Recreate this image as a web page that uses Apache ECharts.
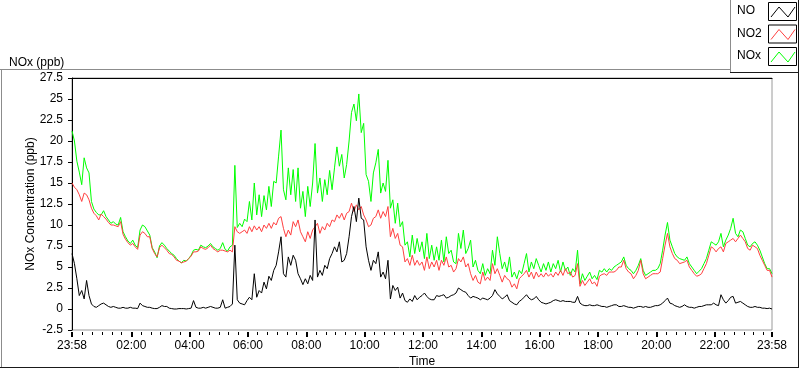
<!DOCTYPE html>
<html><head><meta charset="utf-8">
<script src="https://cdn.jsdelivr.net/npm/echarts@6/dist/echarts.min.js"></script>
<style>html,body{margin:0;padding:0;background:#fff}#c{width:800px;height:369px}</style>
</head><body><div id="c"></div>
<script>
// sampling grid: minutes relative to 00:00 of the day, starting 23:58 the day before
const startMinute = -2;
const stepMinutes = 5;

const noxValues = [
21.2,20.0,17.6,16.3,14.8,18.0,16.8,16.2,12.8,11.9,11.5,11.2,
11.2,11.7,11.0,10.6,10.2,10.4,10.1,10.0,10.9,9.2,8.6,8.1,
7.8,8.2,7.6,7.3,9.4,10.0,9.8,9.3,8.8,7.3,6.8,6.1,
7.5,7.9,7.6,7.2,6.9,6.6,6.4,6.0,5.7,5.5,5.8,5.7,
6.0,6.4,7.0,7.1,7.0,7.6,7.4,7.3,7.5,7.8,7.4,7.2,
7.0,7.2,7.9,7.1,6.9,7.4,7.6,17.1,9.7,10.2,9.8,10.7,
10.4,12.8,10.6,15.0,11.2,13.6,11.0,13.5,11.8,14.6,12.2,15.2,
15.0,18.2,21.3,14.2,13.0,16.8,13.6,16.6,12.8,16.8,12.0,14.0,
11.0,14.6,12.2,15.0,19.7,13.8,15.6,12.8,15.4,13.6,16.5,14.2,
16.8,19.3,17.0,18.4,15.6,17.2,20.0,23.4,24.4,22.4,25.6,21.0,
22.1,16.0,15.2,12.8,16.2,17.4,19.0,13.8,15.0,14.0,17.7,12.0,
13.0,10.2,12.6,9.8,10.4,7.6,8.0,6.2,8.8,6.6,8.4,6.8,
8.0,6.0,9.0,6.0,7.6,5.8,7.4,5.8,8.2,5.6,8.6,6.6,
7.0,5.6,5.4,9.0,7.2,9.4,6.6,7.2,8.2,5.0,5.8,4.6,
4.2,5.4,4.0,4.8,4.2,7.0,5.2,8.6,6.6,4.8,5.6,4.4,
6.2,3.8,4.4,3.6,4.6,4.2,5.4,6.6,4.4,5.6,4.8,6.0,
5.2,4.4,5.4,4.6,5.6,4.4,5.4,4.8,5.8,4.4,5.6,4.6,
5.0,4.0,4.8,4.4,7.0,3.0,4.2,3.4,3.9,4.4,3.6,4.0,
3.5,4.6,4.4,4.8,4.4,4.8,4.6,5.0,5.2,5.4,5.6,6.2,
5.2,4.8,4.6,4.2,4.6,5.2,6.0,4.6,4.0,4.2,4.4,4.6,
4.6,4.8,5.4,7.0,8.8,10.3,8.2,7.4,6.6,6.2,6.0,5.9,
5.8,6.2,5.4,5.0,4.6,4.2,4.5,4.8,5.4,6.0,7.0,8.0,
7.8,7.6,8.0,9.0,7.4,8.2,8.8,9.6,10.8,9.0,8.6,9.4,
9.2,8.4,7.6,7.4,7.8,8.0,7.6,7.0,6.2,5.4,4.8,4.8,4.2
];

const no2Values = [
15.0,14.5,14.2,13.6,12.8,13.8,13.6,13.0,12.0,11.4,11.1,10.6,
11.3,11.0,10.7,10.3,10.0,10.0,9.9,9.8,10.4,8.9,8.3,7.9,
7.6,7.8,7.4,7.1,8.8,9.2,9.0,8.6,8.6,7.2,6.6,6.2,
7.3,7.6,7.3,7.0,6.6,6.5,6.2,5.8,5.7,5.5,5.6,5.7,
6.0,6.3,6.8,6.8,6.9,7.4,7.2,7.1,7.3,7.6,7.2,7.0,
6.8,7.0,7.0,6.9,6.8,7.0,6.8,9.8,9.2,9.0,9.2,9.4,
9.0,9.8,9.2,9.9,9.4,9.8,9.2,10.0,9.6,10.2,9.6,10.3,
10.0,10.8,11.0,9.6,8.6,9.4,8.8,10.4,9.8,10.6,9.2,8.6,
8.0,9.2,8.4,9.4,9.8,10.2,9.0,9.8,9.4,10.2,9.8,10.6,
10.4,11.2,10.8,11.4,10.6,11.4,11.6,12.6,11.6,12.4,11.8,12.2,
11.2,10.6,9.8,10.0,10.8,11.0,11.8,10.8,11.6,11.0,12.2,8.6,
9.6,8.4,9.0,7.6,7.4,5.6,6.0,5.2,6.4,5.2,5.8,5.2,
5.6,4.6,6.2,4.8,5.6,5.0,5.8,4.6,5.8,5.2,6.2,5.0,
5.2,4.4,4.8,6.0,5.6,6.2,5.0,5.4,4.2,3.4,4.0,3.2,
3.0,4.4,3.4,3.8,3.4,5.4,4.2,4.8,4.0,3.2,4.0,3.6,
3.4,2.6,3.0,2.4,3.6,3.9,4.2,4.6,3.8,4.4,3.6,4.4,
3.8,4.2,3.8,4.3,3.9,4.2,3.8,4.4,4.0,4.6,4.0,4.8,
4.2,4.4,3.8,4.0,5.4,2.7,3.4,2.8,3.2,3.6,3.0,3.2,
2.7,3.9,4.1,4.2,4.0,4.4,4.4,4.4,4.6,5.0,5.0,5.8,
4.8,4.4,4.2,3.6,4.0,4.6,5.8,4.2,3.6,3.8,4.0,4.2,
4.2,4.2,4.4,6.0,7.6,9.0,7.4,6.6,6.0,5.8,5.4,5.5,
5.6,5.8,5.0,4.6,4.2,3.9,4.0,4.2,4.8,5.4,6.4,7.4,
7.2,6.8,7.2,7.4,6.8,7.8,8.0,8.2,8.4,8.0,8.4,8.8,
8.4,8.0,7.2,7.0,7.6,7.4,7.2,6.4,5.8,5.2,4.6,4.6,3.8
];

const noValues = [
6.6,5.4,3.6,1.6,2.2,1.2,3.4,1.6,0.6,0.3,0.2,0.4,
0.6,0.7,0.5,0.3,0.2,0.3,0.2,0.1,0.1,0.2,0.1,0.1,
0.2,0.1,0.1,0.05,0.7,0.4,0.3,0.2,0.2,0.1,0.05,0.05,
0.2,0.4,0.3,0.3,0.1,0.05,0,0,0.05,0.05,0.05,0,
0.05,0.1,1.0,0.2,0.1,0.1,0.2,0.1,0.2,0.3,0.2,0.1,
0.1,0.2,1.1,0.1,0.2,0.3,0.6,7.6,1.1,0.7,0.6,0.5,
1.0,1.4,1.1,4.2,1.4,2.2,1.9,3.2,2.4,3.9,3.4,4.6,
5.2,6.8,8.6,4.2,3.8,6.2,5.2,6.4,5.8,4.2,3.6,2.9,
3.6,3.0,4.0,3.4,10.6,3.8,4.6,4.0,5.2,4.8,6.0,6.6,
7.4,6.8,8.0,5.6,5.8,6.6,8.6,11.0,12.2,10.4,13.2,10.8,
10.6,7.4,5.8,4.6,5.8,5.4,6.8,3.8,4.4,3.6,5.8,1.2,
2.8,2.2,2.6,1.3,1.9,1.0,0.8,1.2,0.9,1.6,1.1,1.4,
1.6,1.9,1.5,1.2,1.1,1.1,1.6,1.5,1.6,1.7,1.3,1.4,
1.6,1.7,1.9,2.5,2.3,2.1,2.0,1.6,1.3,1.5,1.4,1.3,
1.1,1.3,1.2,1.1,1.3,1.6,2.3,1.8,1.5,1.2,1.4,1.7,
1.0,0.8,0.6,0.5,0.9,1.1,1.4,1.7,1.3,1.1,1.2,1.5,
1.1,0.8,0.7,0.6,0.7,0.8,1.0,1.1,1.0,0.9,1.0,0.9,
0.9,0.9,0.8,0.8,1.5,0.7,0.5,0.4,0.4,0.5,0.4,0.4,
0.5,0.4,0.3,0.3,0.2,0.3,0.4,0.5,0.5,0.3,0.3,0.4,
0.3,0.2,0.2,0.1,0.2,0.3,0.3,0.2,0.3,0.2,0.2,0.3,
0.4,0.4,0.5,0.7,1.0,1.3,0.7,0.6,0.4,0.3,0.2,0.3,
0.5,0.3,0.2,0.2,0.1,0.2,0.3,0.3,0.4,0.5,0.5,0.5,
0.7,0.5,0.4,1.7,1.1,0.7,1.0,1.4,1.5,0.7,0.8,0.9,
0.7,0.5,0.3,0.2,0.2,0.3,0.2,0.2,0.1,0.1,0.05,0.1,0.0
];

// x-axis tick labels (minutes from 00:00; -2 = 23:58 start, 1438 = 23:58 end)
const majorTickMinutes = [-2,120,240,360,480,600,720,840,960,1080,1200,1320,1438];
const minorTickMinutes = [];
for (let m = 20; m < 1440; m += 20) { if (m % 120 !== 0) minorTickMinutes.push(m); }

function fmtTime(v) {
  const m = ((Math.round(v) % 1440) + 1440) % 1440;
  const hh = Math.floor(m / 60), mm = m % 60;
  return (hh < 10 ? '0' : '') + hh + ':' + (mm < 10 ? '0' : '') + mm;
}
function pairs(vals) {
  return vals.map((v, i) => [startMinute + i * stepMinutes, v]);
}

const FONT = '"Liberation Sans", Arial, sans-serif';
const chart = echarts.init(document.getElementById('c'), null, {renderer: 'canvas'});

const legendItems = [
  {name: 'NO', color: '#000000'},
  {name: 'NO2', color: '#ff4040'},
  {name: 'NOx', color: '#00ff00'}
];
const legendGraphics = [];
legendItems.forEach((it, i) => {
  const y0 = 2 + i * 22.5;
  legendGraphics.push({type: 'text', left: 737, top: y0 + 3, style: {text: it.name, fontSize: 12, fontFamily: FONT, fill: '#000'}});
  legendGraphics.push({type: 'rect', shape: {x: 768.5, y: y0 + 0.5, width: 28, height: 18}, style: {fill: '#fff', stroke: '#000', lineWidth: 1}});
  legendGraphics.push({type: 'polyline', shape: {points: [[771, y0 + 15], [779, y0 + 5], [788, y0 + 15], [795, y0 + 5]]}, style: {stroke: it.color, lineWidth: 1, fill: null}});
});

const frame = [
  {type: 'line', shape: {x1: 0, y1: 69.5, x2: 730, y2: 69.5}, style: {stroke: '#8c8c8c', lineWidth: 1}},
  {type: 'line', shape: {x1: 1.5, y1: 70, x2: 1.5, y2: 368}, style: {stroke: '#8c8c8c', lineWidth: 1}},
  {type: 'line', shape: {x1: 0, y1: 367.5, x2: 799, y2: 367.5}, style: {stroke: '#1a1a1a', lineWidth: 1}},
  {type: 'line', shape: {x1: 798.5, y1: 0, x2: 798.5, y2: 368}, style: {stroke: '#1a1a1a', lineWidth: 1}},
  {type: 'line', shape: {x1: 730.5, y1: 0, x2: 730.5, y2: 72}, style: {stroke: '#8c8c8c', lineWidth: 1}},
  {type: 'line', shape: {x1: 730, y1: 72.5, x2: 799, y2: 72.5}, style: {stroke: '#1a1a1a', lineWidth: 1}}
];

const option = {
  animation: false,
  backgroundColor: '#ffffff',
  textStyle: {fontFamily: FONT},
  title: {text: 'NOx (ppb)', left: 4, top: 52, textStyle: {fontSize: 12, fontWeight: 'normal', color: '#000', fontFamily: FONT}},
  grid: {left: 72, right: 28, top: 78, bottom: 39, show: true, borderColor: '#9a9a9a', borderWidth: 1, backgroundColor: '#fff',
         containLabel: false, outerBoundsMode: 'none'},
  xAxis: [
    {type: 'value', min: -2, max: 1438, position: 'bottom', offset: 2,
     name: 'Time', nameLocation: 'middle', nameGap: 24, nameMoveOverlap: false, nameTextStyle: {fontSize: 12, color: '#000', fontFamily: FONT},
     axisLine: {show: false, onZero: false}, splitLine: {show: false},
     axisTick: {show: true, customValues: majorTickMinutes, length: 5, lineStyle: {color: '#000', width: 2}},
     axisLabel: {show: true, customValues: majorTickMinutes, formatter: fmtTime, fontSize: 12, color: '#000', margin: 8, fontFamily: FONT}},
    {type: 'value', min: -2, max: 1438, position: 'bottom', offset: 2,
     axisLine: {show: false, onZero: false}, splitLine: {show: false},
     axisTick: {show: true, customValues: minorTickMinutes, length: 3, lineStyle: {color: '#000', width: 1}},
     axisLabel: {show: false}},
    {type: 'value', min: -2, max: 1438, position: 'top',
     axisLine: {show: true, onZero: false, lineStyle: {color: '#000', width: 1}}, axisTick: {show: false}, axisLabel: {show: false}, splitLine: {show: false}}
  ],
  yAxis: {type: 'value', min: -2.5, max: 27.5, interval: 2.5,
    name: 'NOx Concentration (ppb)', nameLocation: 'middle', nameGap: 35, nameMoveOverlap: false,
    nameTextStyle: {fontSize: 12, color: '#000', fontFamily: FONT},
    axisLine: {show: true, onZero: false, lineStyle: {color: '#000', width: 1}},
    axisTick: {show: true, length: 4, lineStyle: {color: '#000'}},
    axisLabel: {fontSize: 12, color: '#000', margin: 9, fontFamily: FONT},
    splitLine: {show: false}},
  series: [
    {name: 'NOx', type: 'line', data: pairs(noxValues), showSymbol: false, silent: true,
     lineStyle: {color: '#00ff00', width: 1}, itemStyle: {color: '#00ff00'}, z: 2},
    {name: 'NO2', type: 'line', data: pairs(no2Values), showSymbol: false, silent: true,
     lineStyle: {color: '#ff4040', width: 1}, itemStyle: {color: '#ff4040'}, z: 3},
    {name: 'NO', type: 'line', data: pairs(noValues), showSymbol: false, silent: true,
     lineStyle: {color: '#000000', width: 1}, itemStyle: {color: '#000'}, z: 4}
  ],
  graphic: frame.concat(legendGraphics)
};
chart.setOption(option);
</script>
</body></html>
